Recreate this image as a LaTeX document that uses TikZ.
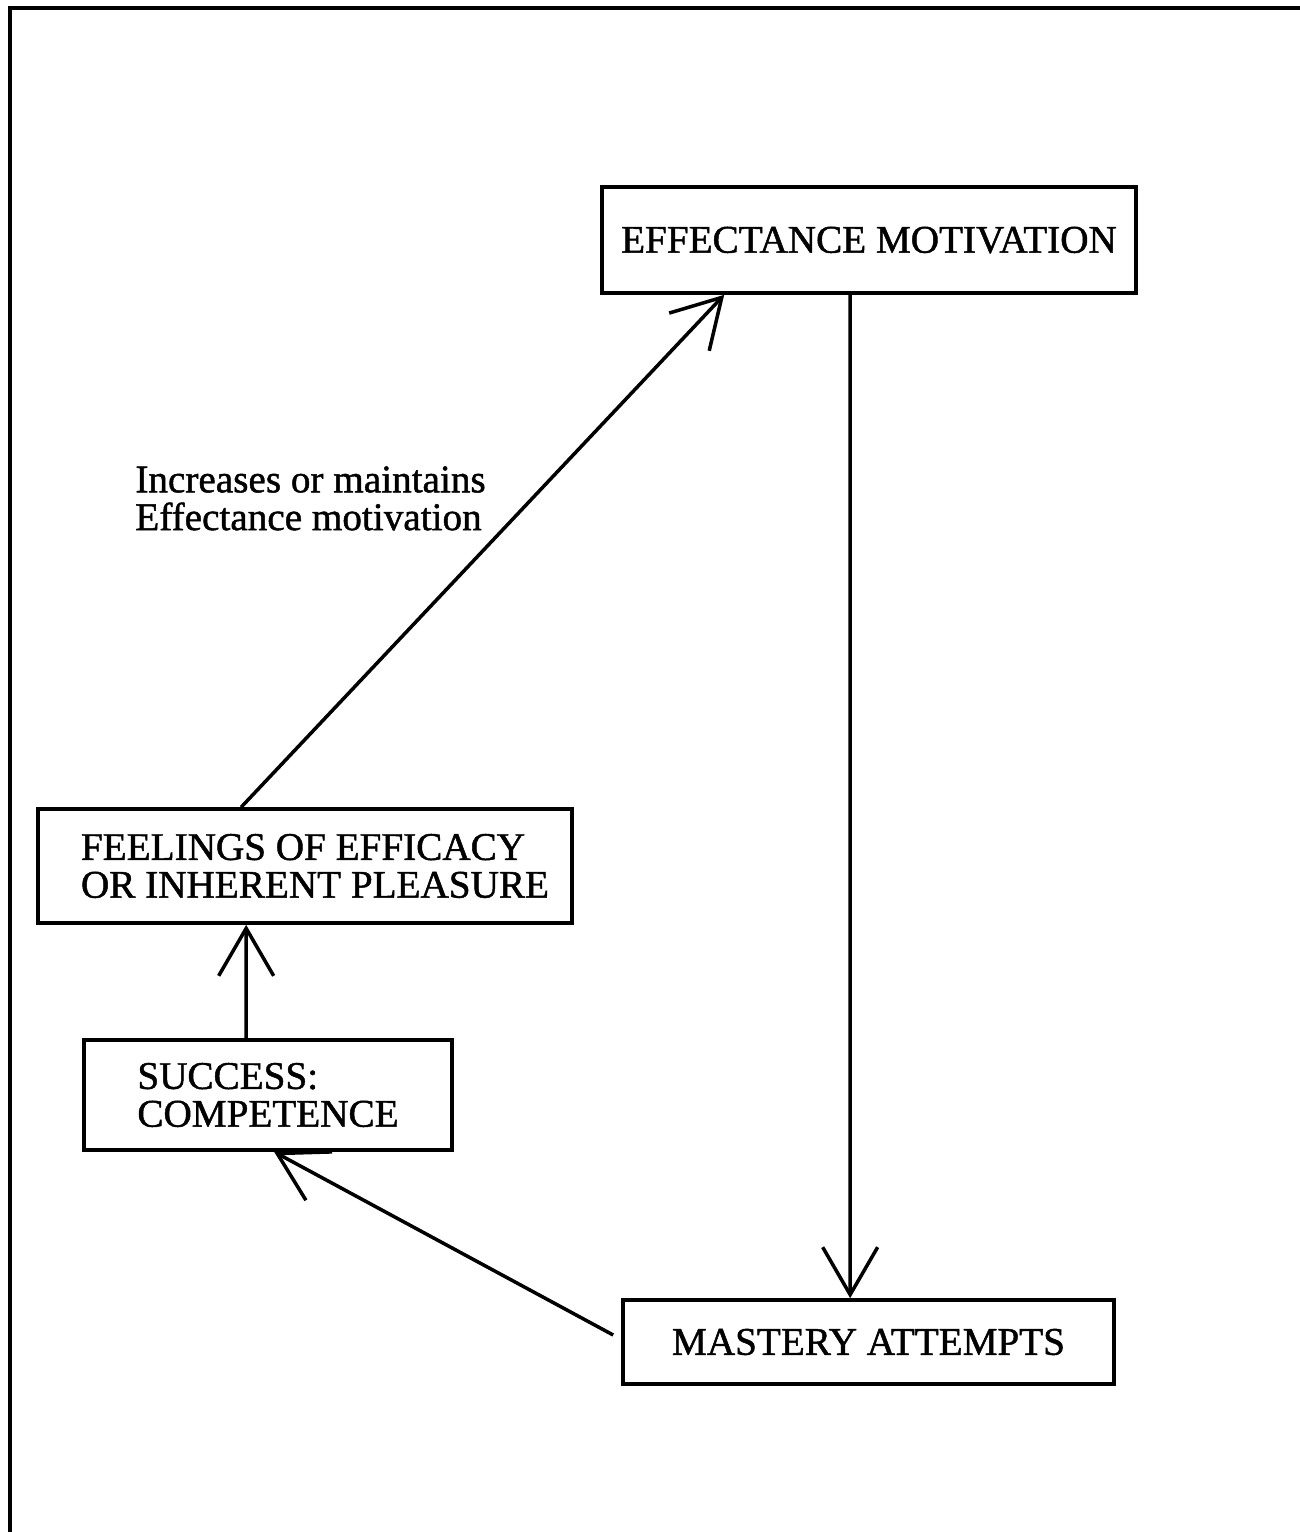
\documentclass[tikz,border=0pt]{standalone}
\usepackage{fontspec}
\setmainfont{Liberation Serif}[FakeBold=1.2]
\usetikzlibrary{arrows.meta}
\begin{document}
\begin{tikzpicture}[x=0.02cm,y=-0.02cm,
  box/.style={draw,line width=2.1pt,inner sep=0pt,align=center,
    font=\fontsize{22.3pt}{21.5pt}\selectfont},
  lbl/.style={inner sep=0pt,align=left,font=\fontsize{22.3pt}{21.5pt}\selectfont},
  arr/.style={line width=2pt,-{Straight Barb[length=0.95cm,width=1.1cm,line width=2pt]}}]
\useasboundingbox (0,0) rectangle (1300,1532);
\draw[line width=2.8pt] (10,1532) -- (10,8) -- (1300,8);
\node[box,minimum width=10.68cm,minimum height=2.12cm] (em) at (869,240) {EFFECTANCE MOTIVATION};
\node[box,minimum width=10.68cm,minimum height=2.28cm,align=left] (fe) at (305,866) {\hspace*{0.4cm}FEELINGS OF EFFICACY\\\hspace*{0.4cm}OR INHERENT PLEASURE};
\node[box,minimum width=7.36cm,minimum height=2.2cm,align=left] (su) at (268,1095) {SUCCESS:\\COMPETENCE};
\node[box,minimum width=9.82cm,minimum height=1.68cm] (ma) at (868.5,1342) {MASTERY ATTEMPTS};
\node[lbl,anchor=north west] (lb) at (135,466) {Increases or maintains\\Effectance motivation};
\draw[arr] ([xshift=4.1cm]fe.north west) -- ([xshift=2.48cm]em.south west);
\draw[arr] ([xshift=5.0cm]em.south west) -- ([xshift=4.58cm]ma.north west);
\draw[arr] ([xshift=3.28cm]su.north west) -- ([xshift=4.2cm]fe.south west);
\draw[arr] ([xshift=-0.16cm,yshift=0.14cm]ma.west) -- ([xshift=3.84cm]su.south west);
\end{tikzpicture}
\end{document}
